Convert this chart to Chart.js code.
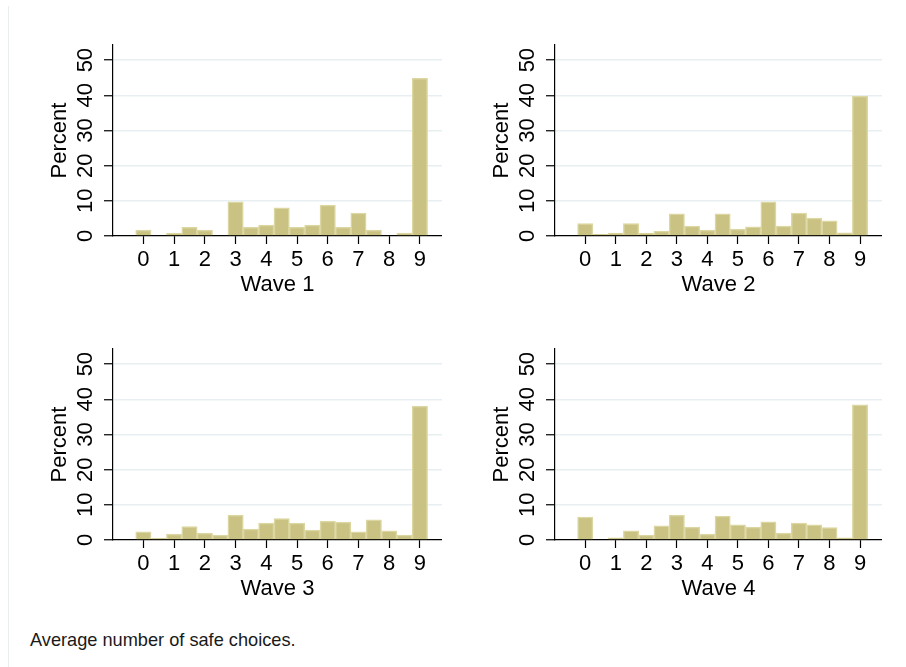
<!DOCTYPE html>
<html>
<head>
<meta charset="utf-8">
<script src="https://cdn.jsdelivr.net/npm/chart.js@4.4.0/dist/chart.umd.min.js"></script>
<style>
    body { margin: 0; background: #ffffff; }
    #page { position: relative; width: 906px; height: 667px; overflow: hidden; }
    #edge { position: absolute; left: 8px; top: 6px; bottom: 0; border-left: 1px solid #e6eeee; }
    canvas { position: absolute; }
    #note {
        position: absolute; left: 30px; top: 630px;
        font-family: "Liberation Sans", Arial, sans-serif; font-size: 18.2px; color: #1a1a1a;
    }
</style>
</head>
<body>
<div id="page">
    <div id="edge"></div>
    <canvas id="wave1" width="402" height="258" style="left:40px;top:40px"></canvas>
    <canvas id="wave2" width="400" height="258" style="left:482px;top:40px"></canvas>
    <canvas id="wave3" width="402" height="258" style="left:40px;top:344px"></canvas>
    <canvas id="wave4" width="400" height="258" style="left:482px;top:344px"></canvas>
    <div id="note">Average number of safe choices.</div>
</div>
<script>
// bins of 0.5 safe choices, values in percent
const binCenters = [0, 0.5, 1, 1.5, 2, 2.5, 3, 3.5, 4, 4.5, 5, 5.5, 6, 6.5, 7, 7.5, 8, 8.5, 9];
const wave1 = [1.7, 0, 0.8, 2.5, 1.7, 0, 9.7, 2.5, 3.1, 8.0, 2.5, 3.1, 8.8, 2.5, 6.5, 1.7, 0, 0.8, 44.8];
const wave2 = [3.5, 0.5, 0.85, 3.5, 0.85, 1.4, 6.3, 2.8, 1.7, 6.3, 2.0, 2.6, 9.7, 2.8, 6.5, 5.1, 4.3, 0.9, 39.8];
const wave3 = [2.3, 0.5, 1.7, 3.8, 2.0, 1.4, 7.1, 3.1, 4.8, 6.1, 4.8, 2.8, 5.4, 5.1, 2.3, 5.7, 2.6, 1.4, 38.1];
const wave4 = [6.5, 0, 0.6, 2.6, 1.4, 4.0, 7.1, 3.7, 1.7, 6.8, 4.3, 3.7, 5.2, 2.0, 4.8, 4.3, 3.5, 0.6, 38.4];
const xTicks = [0, 1, 2, 3, 4, 5, 6, 7, 8, 9];
const yTicks = [0, 10, 20, 30, 40, 50];
const waveTitles = ['Wave 1', 'Wave 2', 'Wave 3', 'Wave 4'];

Chart.defaults.font.family = '"Liberation Sans", Arial, sans-serif';
Chart.defaults.color = '#000000';

function makePanel(id, values, title) {
    const config = {
        type: 'bar',
        data: {
            datasets: [{
                label: title,
                data: binCenters.map((x, i) => ({ x: x, y: values[i] })),
                backgroundColor: '#cac282',
                borderColor: '#dcd6a2',
                borderWidth: 1.5,
                borderSkipped: 'bottom',
                barPercentage: 1,
                categoryPercentage: 1
            }]
        },
        options: {
            responsive: false,
            animation: false,
            layout: { padding: { top: 5, left: 0, right: 0, bottom: 0 } },
            plugins: {
                legend: { display: false },
                tooltip: { enabled: false }
            },
            scales: {
                x: {
                    type: 'linear',
                    offset: false,
                    min: -0.99,
                    max: 9.72,
                    afterBuildTicks: (scale) => { scale.ticks = xTicks.map(v => ({ value: v })); },
                    afterFit: (scale) => {
                        scale.height = 62;
                        scale.paddingLeft = 0;
                        scale.paddingRight = 0;
                    },
                    grid: { offset: false, drawOnChartArea: false, tickLength: 8, tickColor: '#000000', tickWidth: 1.2 },
                    border: { color: '#000000', width: 1.2 },
                    ticks: { font: { size: 22 }, padding: 3, maxRotation: 0 },
                    title: { display: true, text: title, font: { size: 22 }, padding: 0 }
                },
                y: {
                    min: 0,
                    max: 54.3,
                    afterBuildTicks: (scale) => { scale.ticks = yTicks.map(v => ({ value: v })); },
                    afterFit: (scale) => {
                        scale.width = 73;
                        scale.paddingTop = 0;
                        scale.paddingBottom = 0;
                    },
                    grid: {
                        color: (ctx) => ctx.tick && ctx.tick.value === 0 ? 'rgba(0,0,0,0)' : '#e8eff2',
                        lineWidth: 1.5,
                        tickLength: 9,
                        tickColor: '#000000',
                        tickWidth: 1.2
                    },
                    border: { color: '#000000', width: 1.2 },
                    ticks: { font: { size: 22 }, padding: 6, minRotation: 90, maxRotation: 90, crossAlign: 'center' },
                    title: { display: true, text: 'Percent', font: { size: 22 }, padding: { top: 7, bottom: 0 } }
                }
            }
        }
    };
    const context = document.getElementById(id).getContext('2d');
    return new Chart(context, config);
}

makePanel('wave1', wave1, waveTitles[0]);
makePanel('wave2', wave2, waveTitles[1]);
makePanel('wave3', wave3, waveTitles[2]);
makePanel('wave4', wave4, waveTitles[3]);
</script>
</body>
</html>
